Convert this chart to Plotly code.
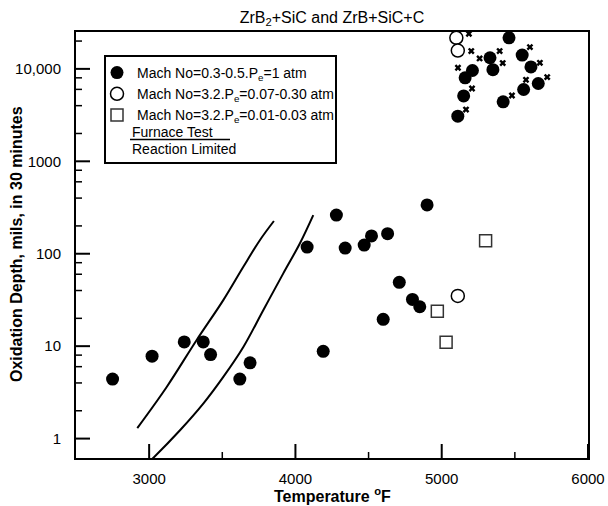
import math
import plotly.graph_objects as go

# ---------------- data ----------------
# Mach No = 0.3-0.5, Pe = 1 atm (filled circles)
temp_filled = [2750, 3020, 3240, 3370, 3420, 3620, 3690, 4080, 4190, 4280,
               4340, 4470, 4520, 4630, 4600, 4710, 4800, 4850, 4900,
               5110, 5150, 5160, 5210, 5330, 5350, 5420, 5460, 5550, 5560, 5610, 5660]
depth_filled = [4.4, 7.8, 11.1, 11.1, 8.1, 4.4, 6.6, 118, 8.8, 262,
                115, 124, 156, 165, 19.5, 49, 32, 26.7, 337,
                3080, 5100, 8000, 9600, 13200, 9800, 4400, 21700, 14100, 5980, 10500, 6950]

# Mach No = 3.2, Pe = 0.07-0.30 atm (open circles)
temp_open = [5100, 5110, 5110]
depth_open = [21700, 15800, 35]

# Mach No = 3.2, Pe = 0.01-0.03 atm (open squares)
temp_square = [4970, 5030, 5300]
depth_square = [23.9, 11, 138]

# small x marks beside the high-temperature points
temp_x = [5186, 5202, 5259, 5111, 5396, 5417, 5603, 5671, 5721, 5576, 5480, 5207, 5166]
depth_x = [24000, 15600, 12970, 10280, 15600, 11560, 17200, 11640, 8150, 7620, 5150, 6130, 3630]

# Furnace test / reaction limited curves
curve1_temp = [2919, 3120, 3324, 3507, 3644, 3758, 3853]
curve1_depth = [1.30, 3.62, 11.6, 31.5, 72.3, 141, 226]
curve2_temp = [3010, 3028, 3211, 3370, 3507, 3644, 3780, 3917, 4031, 4122]
curve2_depth = [0.58, 0.617, 1.23, 2.39, 4.65, 9.8, 24.5, 61.3, 130, 262]

x_range = [2500, 6000]
y_range_log = [-0.21, 4.399]
x_tickvals = [3000, 4000, 5000, 6000]
x_minor = [3500, 4500, 5500]
y_tickvals = [1, 10, 100, 1000, 10000]
y_ticktext = ["1", "10", "100", "1000", "10,000"]
y_minor = [2, 4, 6, 8, 20, 40, 60, 80, 200, 400, 600, 800,
           2000, 4000, 6000, 8000, 20000]

legend_names = ["Mach No=0.3-0.5.P<sub>e</sub>=1 atm",
                "Mach No=3.2.P<sub>e</sub>=0.07-0.30 atm",
                "Mach No=3.2.P<sub>e</sub>=0.01-0.03 atm"]

FONT = "Liberation Sans, Arial, Helvetica, sans-serif"

# plot area: x 76..588, y 32..458 px
L, R, T, B = 76, 588, 32, 458
W, H = 608, 506
pw, ph = R - L, B - T


def px(xp):
    return (xp - L) / pw


def py(yp):
    return (B - yp) / ph


fig = go.Figure()

fig.add_trace(go.Scatter(x=curve1_temp, y=curve1_depth, mode="lines",
                         line=dict(color="black", width=2, shape="spline"),
                         showlegend=False))
fig.add_trace(go.Scatter(x=curve2_temp, y=curve2_depth, mode="lines",
                         line=dict(color="black", width=2, shape="spline"),
                         showlegend=False))

fig.add_trace(go.Scatter(x=temp_filled, y=depth_filled, mode="markers",
                         name=legend_names[0],
                         marker=dict(symbol="circle", size=13, color="black")))
fig.add_trace(go.Scatter(x=temp_open, y=depth_open, mode="markers",
                         name=legend_names[1],
                         marker=dict(symbol="circle", size=13, color="white",
                                     line=dict(color="black", width=1.5))))
fig.add_trace(go.Scatter(x=temp_square, y=depth_square, mode="markers",
                         name=legend_names[2],
                         marker=dict(symbol="square", size=12, color="white",
                                     line=dict(color="#333333", width=1.5))))
fig.add_trace(go.Scatter(x=temp_x, y=depth_x, mode="markers", showlegend=False,
                         marker=dict(symbol="x", size=6, color="black")))

fig.update_layout(
    width=W, height=H,
    margin=dict(l=L, r=W - R, t=T, b=H - B, autoexpand=False),
    paper_bgcolor="white", plot_bgcolor="white",
    font=dict(family=FONT, size=15, color="black"),
    title=dict(text="ZrB<sub>2</sub>+SiC and ZrB+SiC+C",
               x=(L + R) / 2 / W, xanchor="center",
               y=1 - 17 / H, yanchor="middle", yref="container",
               font=dict(size=16, family=FONT, color="black")),
    showlegend=True,
    legend=dict(x=px(97), y=py(57), xanchor="left", yanchor="top",
                bgcolor="rgba(0,0,0,0)", borderwidth=0,
                font=dict(size=14, family=FONT, color="black"),
                tracegroupgap=0),
    xaxis=dict(range=x_range, tickmode="array", tickvals=x_tickvals, ticks="",
               showline=True, linecolor="black", linewidth=2, mirror=True,
               showgrid=False, zeroline=False, automargin=False,
               ticklabelstandoff=6, tickfont=dict(size=15, color="black")),
    yaxis=dict(type="log", range=y_range_log, tickmode="array",
               tickvals=y_tickvals, ticktext=y_ticktext, ticks="",
               showline=True, linecolor="black", linewidth=2, mirror=True,
               showgrid=False, zeroline=False, automargin=False,
               ticklabelstandoff=10, tickfont=dict(size=15, color="black")),
)

# inward tick marks as shapes, positioned from the tick arrays and axis ranges
MAJOR_LEN, MINOR_LEN = 14, 6
ylo = y_range_log[0]
yspan = y_range_log[1] - y_range_log[0]
xspan = x_range[1] - x_range[0]

for vals, length, w in [(x_tickvals, MAJOR_LEN, 2), (x_minor, MINOR_LEN, 1.5)]:
    for v in vals:
        xp = (v - x_range[0]) / xspan
        fig.add_shape(type="line", xref="paper", yref="paper", opacity=1,
                      x0=xp, x1=xp, y0=0, y1=length / ph,
                      line=dict(color="black", width=w))
for vals, length, w in [(y_tickvals, MAJOR_LEN, 2), (y_minor, MINOR_LEN, 1.5)]:
    for v in vals:
        yp = (math.log10(v) - ylo) / yspan
        if 0 <= yp <= 1:
            fig.add_shape(type="line", xref="paper", yref="paper", opacity=1,
                          x0=0, x1=length / pw, y0=yp, y1=yp,
                          line=dict(color="black", width=w))

# axis titles as annotations
fig.add_annotation(text="<b>Temperature <sup>o</sup>F</b>",
                   xref="paper", yref="paper", x=px(332), y=py(495),
                   xanchor="center", yanchor="middle",
                   showarrow=False, font=dict(size=16, family=FONT, color="black"))
fig.add_annotation(text="<b>Oxidation Depth, mils, in 30 minutes</b>",
                   xref="paper", yref="paper", x=px(17), y=py(244),
                   xanchor="center", yanchor="middle", textangle=-90,
                   showarrow=False, font=dict(size=16, family=FONT, color="black"))

# legend box and the furnace-test key
fig.add_shape(type="rect", xref="paper", yref="paper", opacity=1,
              x0=px(105), x1=px(336), y0=py(163), y1=py(56),
              line=dict(color="black", width=2), fillcolor="rgba(0,0,0,0)")
fig.add_shape(type="line", xref="paper", yref="paper", opacity=1,
              x0=px(130), x1=px(230), y0=py(139.5), y1=py(139.5),
              line=dict(color="black", width=1.5))
fig.add_annotation(text="Furnace Test", xref="paper", yref="paper",
                   x=px(130), y=py(132), xanchor="left", yanchor="middle",
                   showarrow=False, font=dict(size=14, family=FONT, color="black"))
fig.add_annotation(text="Reaction Limited", xref="paper", yref="paper",
                   x=px(130), y=py(149), xanchor="left", yanchor="middle",
                   showarrow=False, font=dict(size=14, family=FONT, color="black"))

fig.write_html("out.html")
